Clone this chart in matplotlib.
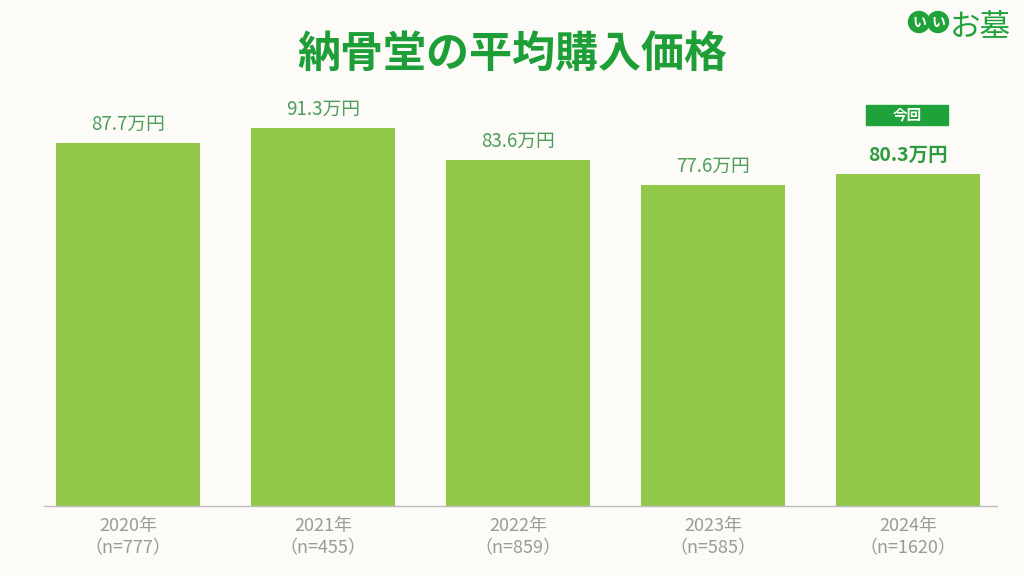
import matplotlib
matplotlib.use("Agg")
import matplotlib.pyplot as plt
from matplotlib.patches import Circle, Rectangle

plt.rcParams['font.family'] = ['Noto Sans CJK JP', 'DejaVu Sans']

years = ["2020年", "2021年", "2022年", "2023年", "2024年"]
samples = ["(n=777)", "(n=455)", "(n=859)", "(n=585)", "(n=1620)"]
values = [87.7, 91.3, 83.6, 77.6, 80.3]
title = "納骨堂の平均購入価格"

BG = "#FCFBF7"
BAR = "#92C84A"
TITLE_C = "#1E9E37"
LABEL_C = "#4E9D5B"
TICK_C = "#9A9A9A"

fig = plt.figure(figsize=(10.24, 5.76), dpi=100, facecolor=BG)
ax = fig.add_axes([44/1024, 1-506/576, (997-44)/1024, (506-92)/576], facecolor=BG)

x = list(range(len(values)))
bars = ax.bar(x, values, width=144/195, color=BAR, zorder=2)
left = -84/195
ax.set_xlim(left, left + 953/195)
ax.set_ylim(0, 100)

for s in ["top", "right", "left"]:
    ax.spines[s].set_visible(False)
ax.spines["bottom"].set_color("#BBBBBB")
ax.spines["bottom"].set_linewidth(1.0)
ax.set_yticks([])
ax.set_xticks(x)
ax.set_xticklabels([f"{y}\n{n}".replace("(", "（").replace(")", "）") for y, n in zip(years, samples)],
                   color=TICK_C, fontsize=13, linespacing=1.3)
ax.tick_params(axis="x", length=0, pad=8)

for i, (b, v) in enumerate(zip(bars, values)):
    last = i == len(values) - 1
    ax.annotate(f"{v}万円", (b.get_x() + b.get_width()/2, v), xytext=(0, 6),
                textcoords="offset points", ha="center", va="bottom",
                fontsize=14 if last else 13.5, fontweight="bold" if last else "normal",
                color="#2E9A3E" if last else LABEL_C)

# "今回" badge above last bar
fig.patches.append(Rectangle((866/1024, 1-125/576), 82/1024, 20/576,
                             transform=fig.transFigure, color="#1FA23A"))
fig.text(907/1024, 1-115/576, "今回", color="white", fontsize=10.5, fontweight="bold",
         ha="center", va="center")

fig.text(512/1024, 1-54/576, title, color=TITLE_C, fontsize=31, fontweight="bold",
         ha="center", va="center")

# logo
lax = fig.add_axes([900/1024, 1-46/576, 124/1024, 44/576])
lax.set_xlim(900, 1024)
lax.set_ylim(46, 2)
lax.set_aspect("equal")
lax.axis("off")
for cx in (919, 938):
    lax.add_patch(Circle((cx, 22), 10.5, color="#1FA23A"))
    lax.text(cx, 22.5, "い", color="white", fontsize=10, fontweight="bold", ha="center", va="center")
lax.text(950, 28, "お墓", color="#1FA23A", fontsize=22, ha="left", va="center")

fig.savefig("out.png", dpi=100, facecolor=BG)
